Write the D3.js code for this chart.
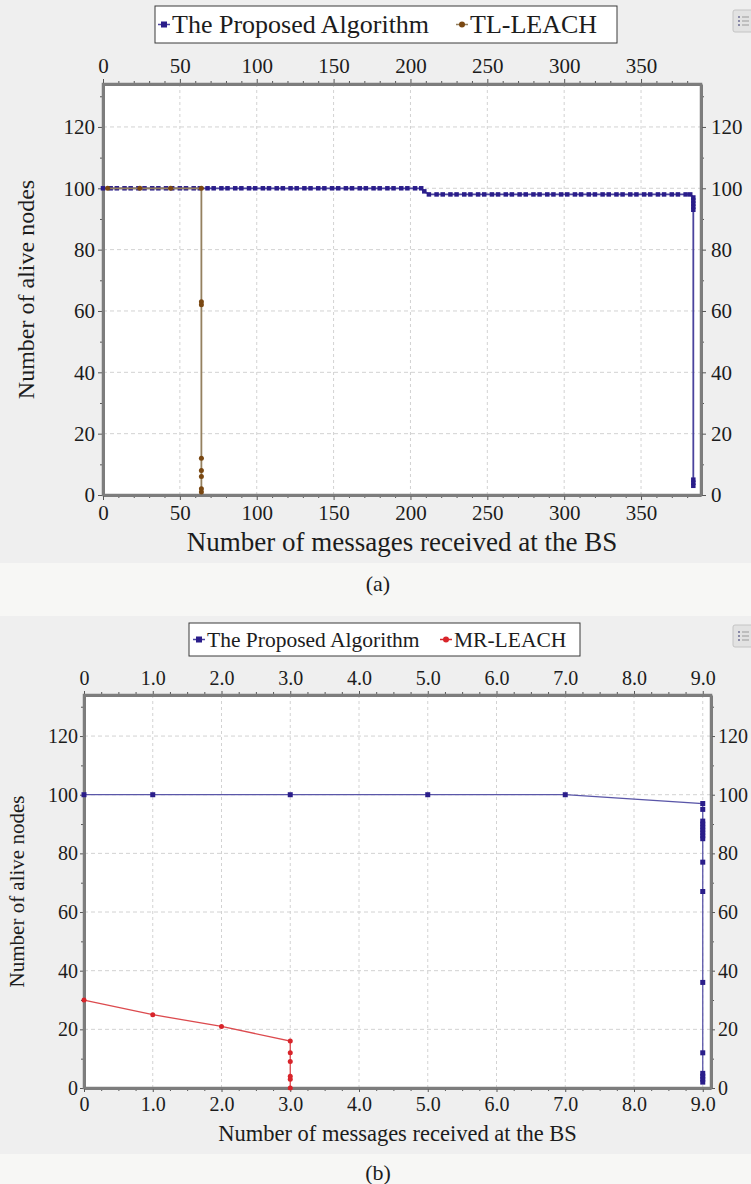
<!DOCTYPE html>
<html>
<head>
<meta charset="utf-8">
<script src="https://cdn.jsdelivr.net/npm/d3@7"></script>
<style>
  body { margin: 0; background: #f7f7f5; }
  svg { display: block; }
  svg text { font-family: "Liberation Serif", "Times New Roman", "DejaVu Serif", serif; fill: #1c1c1c; }
</style>
</head>
<body>
<svg id="fig" width="751" height="1184"></svg>
<script>
// ---------- Panel (a): Proposed Algorithm vs TL-LEACH ----------
const proposedA_x = [0,5,9,14,18,23,27,32,36,41,45,50,54,59,63,68,72,77,81,86,90,95,99,104,108,113,117,122,126,131,135,140,144,149,153,158,162,167,171,176,180,185,189,194,198,203,207,
  209,
  212,217,221,226,230,235,239,244,248,253,257,262,266,271,275,280,284,289,293,298,302,307,311,316,320,325,329,334,338,343,347,352,356,361,365,370,374,379,382,
  384,384,384,384,384,384,384,384];
const proposedA_y = [100,100,100,100,100,100,100,100,100,100,100,100,100,100,100,100,100,100,100,100,100,100,100,100,100,100,100,100,100,100,100,100,100,100,100,100,100,100,100,100,100,100,100,100,100,100,100,
  99,
  98,98,98,98,98,98,98,98,98,98,98,98,98,98,98,98,98,98,98,98,98,98,98,98,98,98,98,98,98,98,98,98,98,98,98,98,98,98,98,
  97,96,95,94,93,5,4,3];

const tlLeach_x = [3,24,44,64,64,64,64,64,64,64,64];
const tlLeach_y = [100,100,100,100,63,62,12,8,6,2,1];

// ---------- Panel (b): Proposed Algorithm vs MR-LEACH ----------
const proposedB_x = [0,1,3,5,7,9,9,9,9,9,9,9,9,9,9,9,9,9,9,9,9,9];
const proposedB_y = [100,100,100,100,100,97,95,91,90,89,88,87,86,85,77,67,36,12,5,4,3,2];

const mrLeach_x = [0,1,2,3,3,3,3,3,3];
const mrLeach_y = [30,25,21,16,12,9,4,3,0];

// ---------- Axis ticks ----------
const yTicks = [0,20,40,60,80,100,120];
const xTicksA = [0,50,100,150,200,250,300,350];
const xTickLabelsA = ["0","50","100","150","200","250","300","350"];
const xTicksB = [0,1,2,3,4,5,6,7,8,9];
const xTickLabelsB = ["0","1.0","2.0","3.0","4.0","5.0","6.0","7.0","8.0","9.0"];

const BLUE = "#2a1d8a";
const BLUE_LINE = "#4b449e";
const BROWN = "#7a4812";
const BROWN_LINE = "#94805f";
const RED = "#d8242a";

const svg = d3.select("#fig");

// page backgrounds
svg.append("rect").attr("x", 0).attr("y", 0).attr("width", 751).attr("height", 1184).attr("fill", "#f7f7f5");
svg.append("rect").attr("x", 0).attr("y", 0).attr("width", 751).attr("height", 563).attr("fill", "#efefef");
svg.append("rect").attr("x", 0).attr("y", 616).attr("width", 751).attr("height", 538).attr("fill", "#efefef");

function toPoints(xs, ys) { return xs.map((v, i) => ({ x: v, y: ys[i] })); }

function legendIcon(x, y) {
  const g = svg.append("g");
  g.append("rect").attr("x", x).attr("y", y).attr("width", 20).attr("height", 22).attr("rx", 2)
    .attr("fill", "#e2e2e2").attr("stroke", "#c4c4c4");
  [6, 10, 14].forEach(dy => {
    g.append("rect").attr("x", x + 5).attr("y", y + dy).attr("width", 2).attr("height", 2).attr("fill", "#8a8aa8");
    g.append("line").attr("x1", x + 9).attr("x2", x + 16).attr("y1", y + dy + 1).attr("y2", y + dy + 1)
      .attr("stroke", "#9a9a9a").attr("stroke-width", 1);
  });
}

function drawPanel(o) {
  const x = d3.scaleLinear().domain(o.xDomain).range([o.left, o.right]);
  const y = d3.scaleLinear().domain([0, 134]).range([o.bottom, o.top]);
  const g = svg.append("g");

  g.append("rect").attr("x", o.left).attr("y", o.top)
    .attr("width", o.right - o.left).attr("height", o.bottom - o.top).attr("fill", "#ffffff");

  // dashed grid
  g.append("g").selectAll("line").data(o.xTicks.filter(d => d > 0)).join("line")
    .attr("x1", d => x(d)).attr("x2", d => x(d)).attr("y1", o.top).attr("y2", o.bottom)
    .attr("stroke", "#d2d2d2").attr("stroke-width", 1).attr("stroke-dasharray", "3,3");
  g.append("g").selectAll("line").data(yTicks.filter(d => d > 0)).join("line")
    .attr("x1", o.left).attr("x2", o.right).attr("y1", d => y(d)).attr("y2", d => y(d))
    .attr("stroke", "#d2d2d2").attr("stroke-width", 1).attr("stroke-dasharray", "4,3");

  const styleAxis = (sel, fs) => {
    sel.select(".domain").attr("stroke", "#7d7d7d").attr("stroke-width", 3);
    sel.selectAll(".tick line").attr("stroke", "#555").attr("stroke-width", 1);
    sel.selectAll("text").attr("font-size", fs);
  };
  const minorAxis = (axis, tr) => {
    const m = g.append("g").attr("transform", tr).call(axis);
    m.select(".domain").remove();
    m.selectAll(".tick line").attr("stroke", "#555");
    m.selectAll("text").remove();
  };

  const fmtX = (d) => o.xLabels[o.xTicks.indexOf(d)];
  const fs = o.tickFont;

  // minor ticks
  minorAxis(d3.axisBottom(x).tickValues(o.xMinor).tickSize(3), `translate(0,${o.bottom})`);
  minorAxis(d3.axisTop(x).tickValues(o.xMinor).tickSize(3), `translate(0,${o.top})`);
  minorAxis(d3.axisLeft(y).tickValues(d3.range(10, 134, 20)).tickSize(3), `translate(${o.left},0)`);
  minorAxis(d3.axisRight(y).tickValues(d3.range(10, 134, 20)).tickSize(3), `translate(${o.right},0)`);

  // major axes on all four sides
  g.append("g").attr("transform", `translate(0,${o.bottom})`)
    .call(d3.axisBottom(x).tickValues(o.xTicks).tickFormat(fmtX).tickSizeInner(o.tick).tickSizeOuter(0).tickPadding(o.padBottom))
    .call(s => styleAxis(s, fs));
  g.append("g").attr("transform", `translate(0,${o.top})`)
    .call(d3.axisTop(x).tickValues(o.xTicks).tickFormat(fmtX).tickSizeInner(o.tick).tickSizeOuter(0).tickPadding(o.padTop))
    .call(s => styleAxis(s, fs));
  g.append("g").attr("transform", `translate(${o.left},0)`)
    .call(d3.axisLeft(y).tickValues(yTicks).tickFormat(d3.format("d")).tickSizeInner(o.tick).tickSizeOuter(0).tickPadding(o.padLeft))
    .call(s => styleAxis(s, fs));
  g.append("g").attr("transform", `translate(${o.right},0)`)
    .call(d3.axisRight(y).tickValues(yTicks).tickFormat(d3.format("d")).tickSizeInner(o.tick).tickSizeOuter(0).tickPadding(o.padRight))
    .call(s => styleAxis(s, fs));

  // plot frame
  g.append("rect").attr("x", o.left).attr("y", o.top)
    .attr("width", o.right - o.left).attr("height", o.bottom - o.top)
    .attr("fill", "none").attr("stroke", "#7d7d7d").attr("stroke-width", 2.5);

  // series
  const line = d3.line().x(d => x(d.x)).y(d => y(d.y));
  o.series.forEach(s => {
    const pts = toPoints(s.xs, s.ys);
    g.append("path").datum(pts).attr("d", line)
      .attr("fill", "none").attr("stroke", s.lineColor).attr("stroke-width", s.lineWidth);
    if (s.shape === "square") {
      g.append("g").selectAll("rect").data(pts).join("rect")
        .attr("x", d => x(d.x) - s.size / 2).attr("y", d => y(d.y) - s.size / 2)
        .attr("width", s.size).attr("height", s.size).attr("fill", s.color);
    } else {
      g.append("g").selectAll("circle").data(pts).join("circle")
        .attr("cx", d => x(d.x)).attr("cy", d => y(d.y)).attr("r", s.size / 2).attr("fill", s.color);
    }
  });

  // axis titles
  svg.append("text").attr("x", (o.left + o.right) / 2).attr("y", o.xTitleY)
    .attr("text-anchor", "middle").attr("font-size", o.titleFont)
    .text("Number of messages received at the BS");
  svg.append("text").attr("transform", `translate(${o.yTitleX},${(o.top + o.bottom) / 2}) rotate(-90)`)
    .attr("text-anchor", "middle").attr("font-size", o.yTitleFont)
    .text("Number of alive nodes");

  // legend box
  const L = o.legend;
  svg.append("rect").attr("x", L.x).attr("y", L.y).attr("width", L.w).attr("height", L.h)
    .attr("fill", "#ffffff").attr("stroke", "#3a3a3a").attr("stroke-width", 1);
  L.items.forEach(it => {
    const cy = L.y + L.h / 2;
    svg.append("line").attr("x1", it.x).attr("x2", it.x + 12).attr("y1", cy).attr("y2", cy)
      .attr("stroke", it.lineColor).attr("stroke-width", 1.5);
    if (it.shape === "square") {
      svg.append("rect").attr("x", it.x + 3).attr("y", cy - 3).attr("width", 6).attr("height", 6).attr("fill", it.color);
    } else {
      svg.append("circle").attr("cx", it.x + 6).attr("cy", cy).attr("r", 3).attr("fill", it.color);
    }
    svg.append("text").attr("x", it.x + 14).attr("y", cy + L.font * 0.34)
      .attr("font-size", L.font).text(it.label);
  });

  svg.append("text").attr("x", 378).attr("y", o.captionY).attr("text-anchor", "middle")
    .attr("font-size", 22).text(o.caption);
}

drawPanel({
  left: 103, right: 701, top: 84, bottom: 495,
  xDomain: [0, 389], xTicks: xTicksA, xLabels: xTickLabelsA, xMinor: d3.range(10, 389, 10).filter(v => v % 50 !== 0),
  tick: 5, padBottom: 5, padTop: 6, padLeft: 3, padRight: 5, tickFont: 21,
  titleFont: 27, yTitleFont: 24, xTitleY: 551, yTitleX: 34,
  caption: "(a)", captionY: 591,
  legend: { x: 155, y: 6, w: 462, h: 37, font: 26, items: [
    { x: 158, label: "The Proposed Algorithm", color: BLUE, lineColor: BLUE_LINE, shape: "square" },
    { x: 456, label: "TL-LEACH", color: BROWN, lineColor: BROWN_LINE, shape: "circle" }
  ]},
  series: [
    { xs: proposedA_x, ys: proposedA_y, color: BLUE, lineColor: BLUE_LINE, lineWidth: 1.8, shape: "square", size: 4.5 },
    { xs: tlLeach_x, ys: tlLeach_y, color: BROWN, lineColor: BROWN_LINE, lineWidth: 1.8, shape: "circle", size: 5 }
  ]
});

drawPanel({
  left: 84, right: 711, top: 695, bottom: 1088,
  xDomain: [0, 9.12], xTicks: xTicksB, xLabels: xTickLabelsB, xMinor: d3.range(0.25, 9.12, 0.25).filter(v => v % 1 !== 0),
  tick: 4, padBottom: 5, padTop: 6, padLeft: 2, padRight: 3, tickFont: 20,
  titleFont: 22.5, yTitleFont: 21, xTitleY: 1141, yTitleX: 24,
  caption: "(b)", captionY: 1180,
  legend: { x: 189, y: 623, w: 391, h: 33, font: 21.5, items: [
    { x: 193, label: "The Proposed Algorithm", color: BLUE, lineColor: BLUE_LINE, shape: "square" },
    { x: 440, label: "MR-LEACH", color: RED, lineColor: RED, shape: "circle" }
  ]},
  series: [
    { xs: proposedB_x, ys: proposedB_y, color: BLUE, lineColor: "#5a56a8", lineWidth: 1.3, shape: "square", size: 5 },
    { xs: mrLeach_x, ys: mrLeach_y, color: RED, lineColor: "#dc4a4e", lineWidth: 1.3, shape: "circle", size: 5 }
  ]
});

legendIcon(733, 10);
legendIcon(733, 625);
</script>
</body>
</html>
